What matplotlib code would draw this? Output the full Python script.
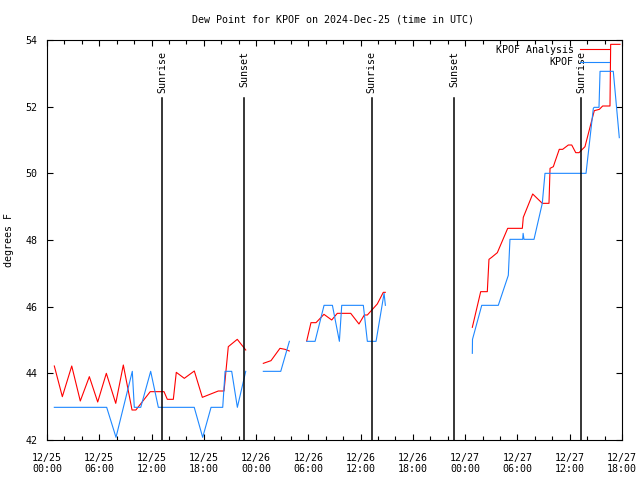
import matplotlib
matplotlib.use('Agg')
import matplotlib.pyplot as plt
import numpy as np

#%% DATA               ~~~~~~~~~~~~~~~~~~~~~~~~~~~~~~~~~~~~~~~~~~~~
# time is hours since 2024-12-25 00:00 UTC, NaN marks a gap in the record
analysis_hours = [0.84, 1.76, 2.84, 3.82, 4.86, 5.82, 6.81, 7.89, 8.76, 9.76, 10.2, 10.8,
                  11.85, 12.85, 13.43, 13.81, 14.5, 14.84, 15.76, 16.91, 17.83, 19.66,
                  20.32, 20.81, 21.84, 22.81, np.nan,
                  24.83, 25.71, 26.74, 27.32, 27.81, np.nan,
                  29.81, 30.3, 30.88, 31.79, 32.68, 33.32, 34.86, 35.81, 36.42, 36.77,
                  37.91, 38.6, 38.83, np.nan,
                  48.82, 49.78, 50.54, 50.73, 51.04, 51.69, 52.88, 54.56, 54.67, 55.75,
                  56.85, 57.62, 57.74, 58.12, 58.31, 58.8, 59.19, 59.84, 60.23, 60.69,
                  61.07, 61.37, 61.75, 62.59, 62.82, 63.4, 63.78, 64.62, 64.7, 65.77]
analysis_dewpt = [44.22, 43.3, 44.22, 43.17, 43.9, 43.14, 44.0, 43.1, 44.25, 42.9, 42.9, 43.1,
                  43.45, 43.45, 43.45, 43.22, 43.22, 44.03, 43.85, 44.07, 43.28, 43.47,
                  43.47, 44.8, 45.02, 44.7, np.nan,
                  44.3, 44.38, 44.75, 44.72, 44.67, np.nan,
                  44.97, 45.52, 45.52, 45.77, 45.6, 45.8, 45.8, 45.48, 45.75, 45.75,
                  46.08, 46.43, 46.43, np.nan,
                  45.38, 46.45, 46.45, 47.42, 47.48, 47.62, 48.35, 48.35, 48.68, 49.38,
                  49.1, 49.1, 50.15, 50.2, 50.35, 50.72, 50.72, 50.85, 50.85, 50.62,
                  50.62, 50.7, 50.8, 51.65, 51.88, 51.92, 52.02, 52.02, 53.87, 53.87]

obs_hours = [0.84, 6.85, 7.92, 9.79, 10.02, 10.76, 11.9, 12.78, 16.9, 17.87, 18.83, 20.17,
             20.44, 21.2, 21.85, 22.81, np.nan,
             24.83, 26.83, 27.82, np.nan,
             29.82, 30.77, 31.8, 32.76, 33.56, 33.83, 36.31, 36.77, 37.77, 38.69, 38.84, np.nan,
             48.82, 48.84, 49.9, 51.8, 52.95, 53.14, 54.6, 54.65, 54.75, 55.9, 56.85, 57.16,
             61.87, 62.71, 62.8, 63.36, 63.48, 65.0, 65.69]
obs_dewpt = [42.98, 42.98, 42.08, 44.06, 42.98, 42.98, 44.06, 42.98, 42.98, 42.08, 42.98, 42.98,
             44.06, 44.06, 42.98, 44.06, np.nan,
             44.06, 44.06, 44.96, np.nan,
             44.96, 44.96, 46.04, 46.04, 44.96, 46.04, 46.04, 44.96, 44.96, 46.4, 46.04, np.nan,
             44.6, 45.02, 46.04, 46.04, 46.94, 48.02, 48.02, 48.2, 48.02, 48.02, 49.1, 50.0,
             50.0, 51.95, 51.98, 51.98, 53.06, 53.06, 51.07]

sun_hours = [13.23, 22.62, 37.27, 46.75, 61.29]
sun_labels = ['Sunrise', 'Sunset', 'Sunrise', 'Sunset', 'Sunrise']

tick_hours = [0, 6, 12, 18, 24, 30, 36, 42, 48, 54, 60, 66]
tick_labels = ['12/25\n00:00', '12/25\n06:00', '12/25\n12:00', '12/25\n18:00',
               '12/26\n00:00', '12/26\n06:00', '12/26\n12:00', '12/26\n18:00',
               '12/27\n00:00', '12/27\n06:00', '12/27\n12:00', '12/27\n18:00']

#%% PLOT               ~~~~~~~~~~~~~~~~~~~~~~~~~~~~~~~~~~~~~~~~~~~~
plt.rcParams['font.family'] = 'DejaVu Sans Mono'
fs = 7.2

fig = plt.figure(figsize=(6.4, 4.8), dpi=100)
ax = fig.add_axes([47 / 640, 40 / 480, 575 / 640, 400 / 480])

ax.plot(analysis_hours, analysis_dewpt, color='#ff0000', lw=0.8, label='KPOF Analysis')
ax.plot(obs_hours, obs_dewpt, color='#1e88ff', lw=0.8, label='KPOF')

# sunrise / sunset markers
for h, lab in zip(sun_hours, sun_labels):
    ax.plot([h, h], [42, 52.25], color='black', lw=1.1)
    ax.text(h, 53.68, lab, rotation=90, ha='center', va='top', fontsize=fs)

ax.set_xlim(0, 66)
ax.set_ylim(42, 54)
ax.set_xticks(tick_hours)
ax.set_xticklabels(tick_labels, fontsize=fs, linespacing=1.25)
ax.set_xticks(np.arange(0, 67, 2), minor=True)
ax.set_yticks(np.arange(42, 55, 2))
ax.set_yticklabels([str(v) for v in range(42, 55, 2)], fontsize=fs)
ax.tick_params(which='both', direction='in', top=True, right=True, width=0.8)
ax.tick_params(which='major', length=4.5, pad=7)
ax.tick_params(axis='x', which='major', pad=9)
ax.tick_params(which='minor', length=3)
for s in ax.spines.values():
    s.set_linewidth(0.8)

ax.set_ylabel('degrees F', fontsize=fs)
ax.yaxis.set_label_coords(-0.057, 0.5)
fig.text(0.52, 1 - 20 / 480, 'Dew Point for KPOF on 2024-Dec-25 (time in UTC)',
         ha='center', va='center', fontsize=fs)

ax.legend(loc='upper right', bbox_to_anchor=(0.977, 0.988), frameon=False,
          markerfirst=False, fontsize=fs, handlelength=2.9, handletextpad=0.6,
          labelspacing=0.25, borderaxespad=0, borderpad=0)

fig.savefig('out.png', dpi=100)
